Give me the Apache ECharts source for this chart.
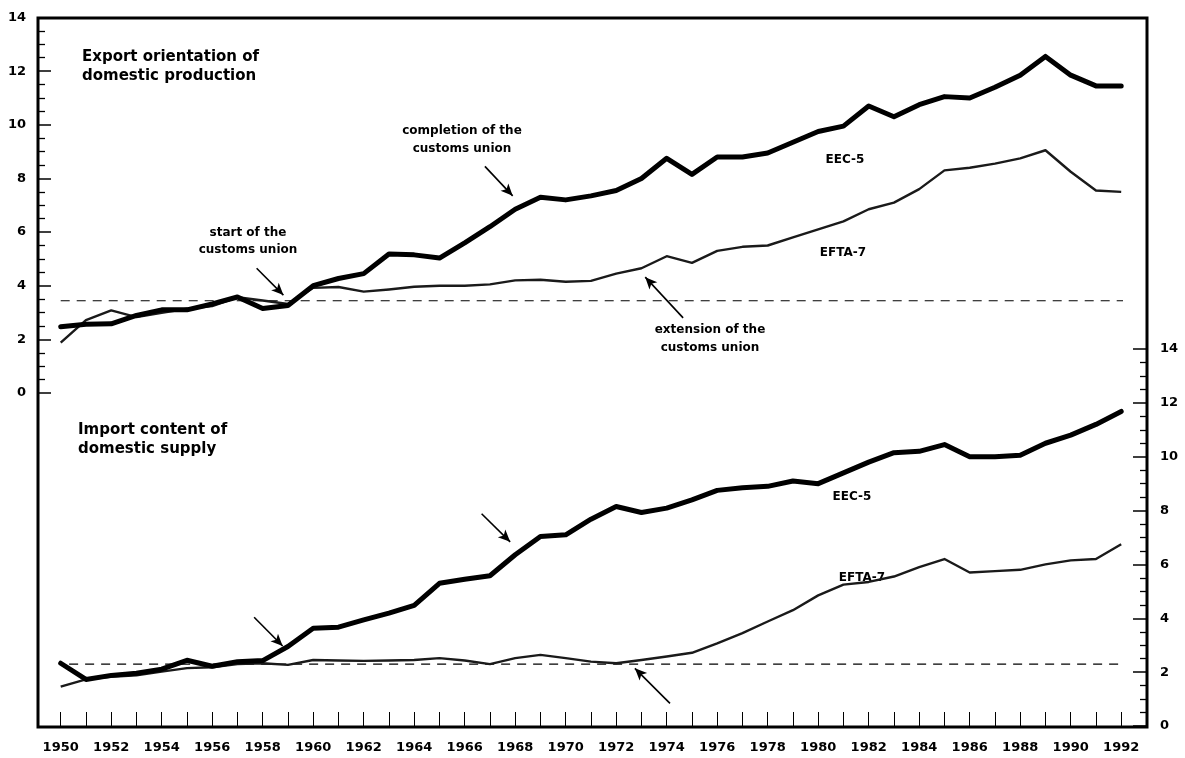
<!DOCTYPE html>
<html>
<head>
<meta charset="utf-8">
<script src="https://cdn.jsdelivr.net/npm/echarts@6/dist/echarts.min.js"></script>
<style>
  html, body { margin: 0; padding: 0; background: #fff; }
  #chart { width: 1185px; height: 758px; }
</style>
</head>
<body>
<div id="chart"></div>
<script>
// ---------- data ----------
const years = [1950,1951,1952,1953,1954,1955,1956,1957,1958,1959,
               1960,1961,1962,1963,1964,1965,1966,1967,1968,1969,
               1970,1971,1972,1973,1974,1975,1976,1977,1978,1979,
               1980,1981,1982,1983,1984,1985,1986,1987,1988,1989,
               1990,1991,1992];

// Export orientation of domestic production (left axis)
const eecExport  = [2.47,2.56,2.58,2.89,3.10,3.10,3.32,3.58,3.15,3.26,
                    4.00,4.27,4.45,5.18,5.15,5.03,5.60,6.20,6.85,7.30,
                    7.20,7.35,7.55,8.00,8.75,8.15,8.80,8.80,8.95,9.35,
                    9.75,9.95,10.70,10.30,10.75,11.05,11.00,11.40,11.85,12.55,
                    11.85,11.45,11.45];
const eftaExport = [1.88,2.72,3.08,2.83,2.99,3.14,3.24,3.57,3.45,3.32,
                    3.92,3.95,3.78,3.86,3.96,4.00,4.00,4.05,4.20,4.22,
                    4.15,4.18,4.45,4.65,5.10,4.85,5.30,5.45,5.50,5.80,
                    6.10,6.40,6.85,7.10,7.60,8.30,8.40,8.55,8.75,9.05,
                    8.25,7.55,7.50];

// Import content of domestic supply (right axis)
const eecImport  = [2.33,1.73,1.88,1.96,2.11,2.44,2.22,2.39,2.43,2.95,
                    3.63,3.67,3.94,4.19,4.48,5.30,5.45,5.58,6.36,7.04,
                    7.10,7.68,8.15,7.93,8.09,8.40,8.75,8.85,8.90,9.10,
                    9.00,9.40,9.80,10.15,10.20,10.45,10.00,10.00,10.05,10.50,
                    10.80,11.20,11.68];
const eftaImport = [1.46,1.73,1.83,1.88,2.02,2.15,2.18,2.30,2.33,2.27,
                    2.45,2.43,2.42,2.43,2.45,2.52,2.43,2.30,2.52,2.64,
                    2.52,2.39,2.33,2.45,2.58,2.72,3.07,3.45,3.88,4.30,
                    4.85,5.25,5.35,5.55,5.90,6.20,5.70,5.75,5.80,6.00,
                    6.15,6.20,6.75];

// reference (dashed) levels
const exportRefLevel = 3.44;
const importRefLevel = 2.30;

// axis ticks
const yMin = 0, yMax = 14, yStep = 2;
const xMin = 1950, xMax = 1992;

// ---------- chart ----------
const FONT = 'DejaVu Sans';
const pair = (xs, ys) => xs.map((x, i) => [x, ys[i]]);

const arrowStyle = {
  silent: true,
  symbol: ['none', 'arrow'],
  symbolSize: [8, 12],
  label: { show: false },
  lineStyle: { color: '#000', width: 1.6, type: 'solid' },
  emphasis: { disabled: true },
  animation: false
};

const chart = echarts.init(document.getElementById('chart'), null, { renderer: 'canvas' });

const option = {
  animation: false,
  backgroundColor: '#fff',
  grid: [
    // outer frame
    { left: 38, right: 38, top: 18, bottom: 31, show: true, borderColor: '#000', borderWidth: 3, backgroundColor: 'transparent' },
    // top panel (export orientation)
    { left: 60.7, right: 63.8, top: 17.5, height: 375.5 },
    // bottom panel (import content)
    { left: 60.7, right: 63.8, top: 349, bottom: 32 }
  ],
  xAxis: [
    { gridIndex: 0, type: 'value', show: false, min: 0, max: 1 },
    { gridIndex: 1, type: 'value', show: false, min: xMin, max: xMax },
    { gridIndex: 2, type: 'value', min: xMin, max: xMax, interval: 1,
      axisLine: { show: false },
      splitLine: { show: false },
      axisTick: { show: true, inside: true, length: 14, lineStyle: { color: '#000', width: 1 } },
      axisLabel: { margin: 15, color: '#000', fontFamily: FONT, fontWeight: 'bold', fontSize: 13,
                   formatter: v => (v % 2 === 0 ? String(v) : '') , hideOverlap: false }
    }
  ],
  yAxis: [
    { gridIndex: 0, type: 'value', show: false, min: 0, max: 1 },
    { gridIndex: 1, type: 'value', position: 'left', offset: 22.7, min: yMin, max: yMax, interval: yStep,
      axisLine: { show: false },
      splitLine: { show: false },
      axisTick: { show: true, inside: true, length: 13, lineStyle: { color: '#000', width: 1.5 } },
      minorTick: { show: true, splitNumber: 4, length: 7, lineStyle: { color: '#000', width: 1.3 } },
      axisLabel: { margin: 12, color: '#000', fontFamily: FONT, fontWeight: 'bold', fontSize: 13 }
    },
    { gridIndex: 2, type: 'value', position: 'right', offset: 25.8, min: yMin, max: yMax, interval: yStep,
      axisLine: { show: false },
      splitLine: { show: false },
      axisTick: { show: true, inside: true, length: 14, lineStyle: { color: '#000', width: 1.5 } },
      minorTick: { show: true, splitNumber: 4, length: 7, lineStyle: { color: '#000', width: 1.3 } },
      axisLabel: { margin: 13, color: '#000', fontFamily: FONT, fontWeight: 'bold', fontSize: 13 }
    }
  ],
  series: [
    { name: 'ref-export', type: 'line', xAxisIndex: 1, yAxisIndex: 1, clip: false, silent: true,
      symbol: 'none', data: [[xMin, exportRefLevel], [xMax + 0.9, exportRefLevel]],
      lineStyle: { color: '#000', width: 1.2, type: [9, 7] } },
    { name: 'ref-import', type: 'line', xAxisIndex: 2, yAxisIndex: 2, clip: false, silent: true,
      symbol: 'none', data: [[xMin - 0.3, importRefLevel], [xMax + 0.1, importRefLevel]],
      lineStyle: { color: '#000', width: 1.2, type: [9, 7] } },

    { name: 'EFTA-7 export', type: 'line', xAxisIndex: 1, yAxisIndex: 1, symbol: 'none',
      data: pair(years, eftaExport), lineStyle: { color: '#1a1a1a', width: 2.4, join: 'round' },
      markLine: Object.assign({}, arrowStyle, { data: [
        [{ coord: [1974.65, 2.80] }, { coord: [1973.15, 4.32] }]
      ] }) },
    { name: 'EEC-5 export', type: 'line', xAxisIndex: 1, yAxisIndex: 1, symbol: 'none',
      data: pair(years, eecExport), lineStyle: { color: '#000', width: 5, join: 'round', cap: 'round' },
      markLine: Object.assign({}, arrowStyle, { data: [
        [{ coord: [1957.76, 4.65] }, { coord: [1958.82, 3.65] }],
        [{ coord: [1966.8, 8.45] }, { coord: [1967.9, 7.35] }]
      ] }) },

    { name: 'EFTA-7 import', type: 'line', xAxisIndex: 2, yAxisIndex: 2, symbol: 'none',
      data: pair(years, eftaImport), lineStyle: { color: '#1a1a1a', width: 2.4, join: 'round' },
      markLine: Object.assign({}, arrowStyle, { data: [
        [{ coord: [1974.13, 0.84] }, { coord: [1972.74, 2.14] }]
      ] }) },
    { name: 'EEC-5 import', type: 'line', xAxisIndex: 2, yAxisIndex: 2, symbol: 'none',
      data: pair(years, eecImport), lineStyle: { color: '#000', width: 5, join: 'round', cap: 'round' },
      markLine: Object.assign({}, arrowStyle, { data: [
        [{ coord: [1957.66, 4.04] }, { coord: [1958.79, 2.97] }],
        [{ coord: [1966.67, 7.88] }, { coord: [1967.8, 6.84] }]
      ] }) }
  ],
  graphic: [
    { type: 'text', x: 82, y: 67, style: { text: 'Export orientation of\ndomestic production', font: 'bold 15px "DejaVu Sans"', fill: '#000', align: 'left', verticalAlign: 'middle', lineHeight: 19 } },
    { type: 'text', x: 248, y: 241, style: { text: 'start of the\ncustoms union', font: 'bold 12px "DejaVu Sans"', fill: '#000', align: 'center', verticalAlign: 'middle', lineHeight: 17 } },
    { type: 'text', x: 462, y: 140, style: { text: 'completion of the\ncustoms union', font: 'bold 12px "DejaVu Sans"', fill: '#000', align: 'center', verticalAlign: 'middle', lineHeight: 18 } },
    { type: 'text', x: 710, y: 339, style: { text: 'extension of the\ncustoms union', font: 'bold 12px "DejaVu Sans"', fill: '#000', align: 'center', verticalAlign: 'middle', lineHeight: 18 } },
    { type: 'text', x: 845, y: 160, style: { text: 'EEC-5', font: 'bold 12px "DejaVu Sans"', fill: '#000', align: 'center', verticalAlign: 'middle' } },
    { type: 'text', x: 843, y: 253, style: { text: 'EFTA-7', font: 'bold 12px "DejaVu Sans"', fill: '#000', align: 'center', verticalAlign: 'middle' } },
    { type: 'text', x: 78, y: 440, style: { text: 'Import content of\ndomestic supply', font: 'bold 15px "DejaVu Sans"', fill: '#000', align: 'left', verticalAlign: 'middle', lineHeight: 19 } },
    { type: 'text', x: 852, y: 497, style: { text: 'EEC-5', font: 'bold 12px "DejaVu Sans"', fill: '#000', align: 'center', verticalAlign: 'middle' } },
    { type: 'text', x: 862, y: 578, style: { text: 'EFTA-7', font: 'bold 12px "DejaVu Sans"', fill: '#000', align: 'center', verticalAlign: 'middle' } }
  ]
};

chart.setOption(option);
</script>
</body>
</html>
